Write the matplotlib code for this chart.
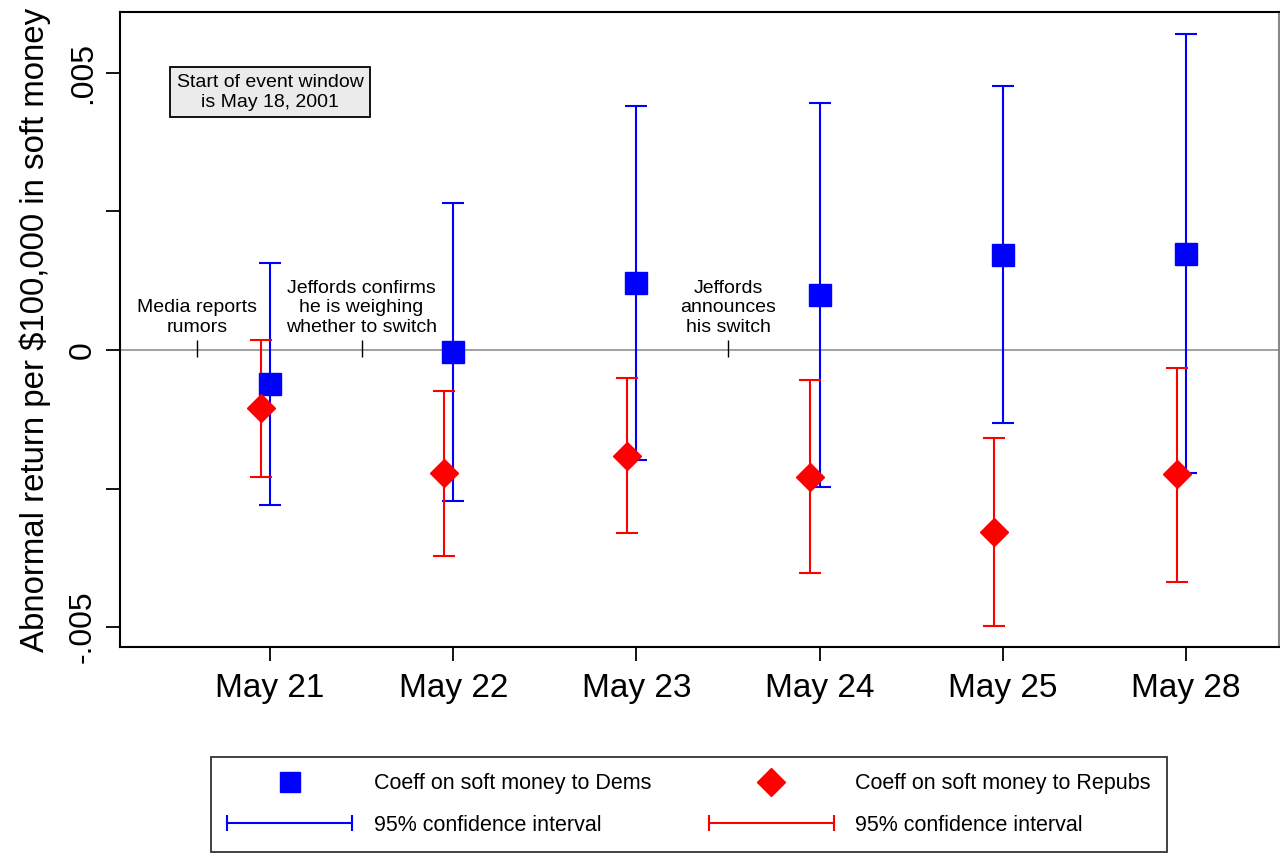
import matplotlib
matplotlib.use("Agg")
import matplotlib.pyplot as plt
from matplotlib.lines import Line2D
from matplotlib.legend_handler import HandlerLine2D

plt.rcParams['font.family'] = ['Liberation Sans', 'DejaVu Sans']

# event days
days = ['May 21', 'May 22', 'May 23', 'May 24', 'May 25', 'May 28']
pos = [1, 2, 3, 4, 5, 6]

# coefficients and 95% CI bounds, soft money to Dems
dem_coef = [-0.000614, -0.00003, 0.001204, 0.000993, 0.00172, 0.00174]
dem_hi = [0.001565, 0.002659, 0.004404, 0.004453, 0.004758, 0.00571]
dem_lo = [-0.002798, -0.00272, -0.001986, -0.002467, -0.001312, -0.00222]

# same for Repubs
rep_coef = [-0.001052, -0.002226, -0.001913, -0.002287, -0.003282, -0.002242]
rep_hi = [0.00018, -0.000735, -0.000511, -0.000542, -0.001588, -0.000321]
rep_lo = [-0.002287, -0.003718, -0.003298, -0.004031, -0.004975, -0.004182]

# events between trading days
ev_x = [0.6, 1.5, 3.5]
ev_text = ['Media reports\nrumors',
           'Jeffords confirms\nhe is weighing\nwhether to switch',
           'Jeffords\nannounces\nhis switch']

fig = plt.figure(figsize=(12.8, 8.57), dpi=100)
ax = fig.add_axes([120/1280, 210/857, 1159/1280, 635/857])

ax.axhline(0, color='#999999', lw=1.3, zorder=1)

# repubs drawn slightly to the left
rep_x = [p - 0.05 for p in pos]
dem_err = [[c - l for c, l in zip(dem_coef, dem_lo)], [h - c for c, h in zip(dem_coef, dem_hi)]]
rep_err = [[c - l for c, l in zip(rep_coef, rep_lo)], [h - c for c, h in zip(rep_coef, rep_hi)]]

ax.errorbar(pos, dem_coef, yerr=dem_err, fmt='none', ecolor='blue', elinewidth=1.5,
            capsize=8, capthick=1.5, zorder=2)
ax.errorbar(rep_x, rep_coef, yerr=rep_err, fmt='none', ecolor='red', elinewidth=1.5,
            capsize=8, capthick=1.5, zorder=2)
ax.plot(pos, dem_coef, 's', color='blue', ms=15.5, zorder=3)
ax.plot(rep_x, rep_coef, 'D', color='red', ms=14.5, zorder=3)

# event markers on the zero line
ax.vlines(ev_x, -0.000126, 0.00018, color='black', lw=1.0, zorder=2)
for x, t in zip(ev_x, ev_text):
    ax.text(x, 0.00026, t, ha='center', va='bottom', fontsize=14, linespacing=1.17)

ax.text(1.0, 0.00465, 'Start of event window\nis May 18, 2001', ha='center', va='center',
        fontsize=14, linespacing=1.2,
        bbox=dict(boxstyle='square,pad=0.35', facecolor='#ebebeb', edgecolor='black', lw=1.3))

ax.set_xlim(0.181, 6.508)
ax.set_ylim(-0.00536, 0.0061)
ax.set_xticks(pos)
ax.set_xticklabels(days, fontsize=24)
ax.set_yticks([-0.005, -0.0025, 0, 0.0025, 0.005])
ax.set_yticklabels(['-.005', '', '0', '', '.005'], fontsize=23, rotation=90, va='center')
ax.tick_params(axis='both', length=10, width=1.3, direction='out')
ax.tick_params(axis='x', pad=9)
ax.tick_params(axis='y', pad=6)
ax.set_ylabel('Abnormal return per $100,000 in soft money', fontsize=23.8, labelpad=12)
for s in ax.spines.values():
    s.set_linewidth(1.5)
ax.spines['right'].set_color('#888888')

handles = [
    Line2D([], [], ls='none', marker='s', ms=15, color='blue'),
    Line2D([], [], color='blue', lw=1.5, marker='|', ms=12, mew=1.5),
    Line2D([], [], ls='none', marker='D', ms=14.5, color='red'),
    Line2D([], [], color='red', lw=1.5, marker='|', ms=12, mew=1.5),
]
labels = ['Coeff on soft money to Dems', '95% confidence interval',
          'Coeff on soft money to Repubs', '95% confidence interval']
hmap = {handles[1]: HandlerLine2D(numpoints=2, marker_pad=0),
        handles[3]: HandlerLine2D(numpoints=2, marker_pad=0)}
leg = fig.legend(handles, labels, handler_map=hmap, ncol=2, loc='upper left',
                 bbox_to_anchor=(211/1280, 1 - 757/857),
                 fontsize=15.5, handlelength=5.8, handletextpad=1.0, labelspacing=0.95,
                 columnspacing=2.7, borderpad=0.75, borderaxespad=0,
                 fancybox=False, frameon=True)
leg.get_frame().set_edgecolor('black')
leg.get_frame().set_linewidth(1.3)

fig.savefig('out.png', dpi=100)
